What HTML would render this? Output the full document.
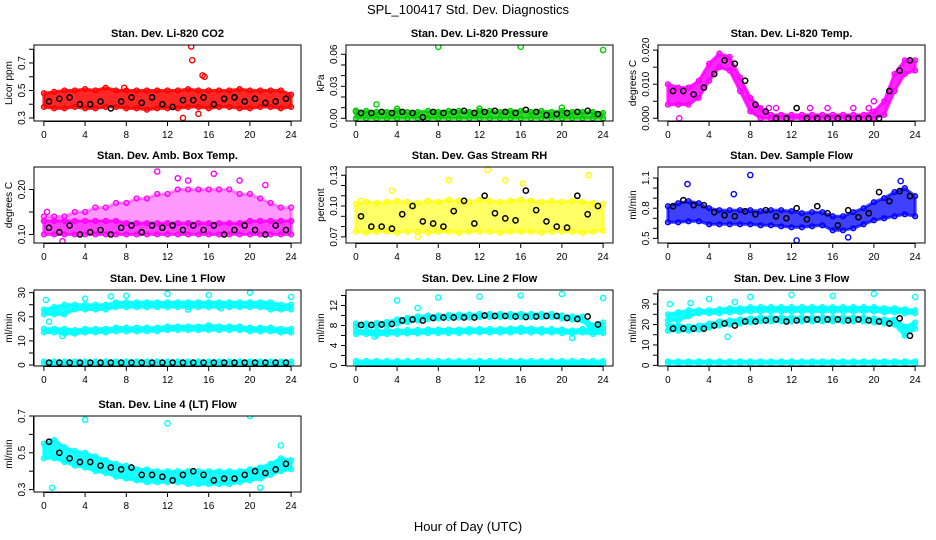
<!DOCTYPE html>
<html><head><meta charset="utf-8"><style>
body{margin:0;background:#fff;}
svg{display:block;font-family:"Liberation Sans",sans-serif;}
</style></head><body>
<svg id="chart" width="936" height="540" viewBox="0 0 936 540">
<text x="468" y="14" text-anchor="middle" font-size="13">SPL_100417  Std. Dev. Diagnostics</text>
<text x="468" y="531" text-anchor="middle" font-size="13">Hour of Day (UTC)</text>
</svg>
<script>
const hours=[0,1,2,3,4,5,6,7,8,9,10,11,12,13,14,15,16,17,18,19,20,21,22,23,24];
const halfHours=[0.5,1.5,2.5,3.5,4.5,5.5,6.5,7.5,8.5,9.5,10.5,11.5,12.5,13.5,14.5,15.5,16.5,17.5,18.5,19.5,20.5,21.5,22.5,23.5];
const xTicks=[0,4,8,12,16,20,24];

const co2Lo=[0.38,0.37,0.37,0.38,0.37,0.37,0.38,0.38,0.37,0.37,0.36,0.37,0.37,0.37,0.38,0.38,0.37,0.38,0.38,0.37,0.37,0.38,0.38,0.37,0.38];
const co2Hi=[0.48,0.49,0.50,0.50,0.51,0.50,0.52,0.50,0.50,0.50,0.50,0.50,0.50,0.50,0.51,0.50,0.50,0.50,0.50,0.51,0.50,0.50,0.50,0.50,0.47];
const co2Black=[0.42,0.44,0.45,0.40,0.40,0.42,0.37,0.42,0.45,0.41,0.45,0.40,0.38,0.43,0.43,0.45,0.40,0.44,0.45,0.42,0.44,0.41,0.42,0.44];
const co2OutX=[14.3,14.4,15.4,15.6,13.5,15.0,7.8];
const co2OutY=[0.82,0.72,0.61,0.60,0.30,0.33,0.52];

const presLo=[0,0,0,0,0,0,0,0,0,0,0,0,0,0,0,0,0,0,0,0,0,0,0,0,0];
const presHi=[0.006,0.007,0.006,0.006,0.007,0.006,0.006,0.007,0.006,0.007,0.007,0.006,0.007,0.007,0.006,0.007,0.007,0.006,0.007,0.006,0.007,0.006,0.006,0.006,0.005];
const presBlack=[0.005,0.005,0.006,0.005,0.006,0.005,0.001,0.006,0.005,0.006,0.007,0.005,0.006,0.007,0.006,0.005,0.008,0.006,0.003,0.004,0.005,0.006,0.007,0.004];
const presOutX=[8,16,24,2,4,12,20,0];
const presOutY=[0.067,0.067,0.064,0.013,0.009,0.009,0.010,0.007];

const tempLo=[0.004,0.004,0.004,0.006,0.011,0.015,0.014,0.008,0.002,0,0,0,0,0,0,0,0,0,0,0,0,0.001,0.008,0.013,0.014];
const tempHi=[0.010,0.009,0.009,0.011,0.016,0.019,0.018,0.012,0.006,0.003,0.001,0.001,0.001,0.001,0.001,0.001,0.001,0.001,0.001,0.001,0.002,0.005,0.013,0.017,0.017];
const tempBlack=[0.008,0.008,0.007,0.009,0.013,0.017,0.016,0.011,0.004,0.002,0,0,0.003,0,0,0,0,0,0,0,0,0.008,0.014,0.017];
const tempOutX=[1.1,9.8,10.5,13.8,15.5,18,19.5,20];
const tempOutY=[0,0.003,0.003,0.003,0.003,0.003,0.003,0.005];

const ambLo=[0.10,0.10,0.10,0.10,0.10,0.10,0.10,0.10,0.10,0.10,0.10,0.10,0.10,0.10,0.10,0.10,0.10,0.10,0.10,0.10,0.10,0.10,0.10,0.10,0.10];
const ambMid=[0.13,0.13,0.13,0.13,0.13,0.13,0.13,0.13,0.125,0.125,0.125,0.125,0.125,0.125,0.125,0.125,0.125,0.125,0.125,0.125,0.13,0.13,0.13,0.13,0.13];
const ambHi=[0.14,0.14,0.14,0.15,0.15,0.16,0.16,0.17,0.17,0.18,0.18,0.19,0.19,0.20,0.20,0.20,0.20,0.20,0.20,0.19,0.19,0.18,0.17,0.16,0.16];
const ambBlack=[0.115,0.105,0.12,0.10,0.105,0.11,0.10,0.115,0.12,0.105,0.12,0.115,0.12,0.11,0.12,0.11,0.12,0.10,0.11,0.12,0.11,0.10,0.12,0.11];
const ambOutX=[11,13,16.5,14,19,1.8,0.3,21.5];
const ambOutY=[0.24,0.225,0.235,0.22,0.22,0.085,0.15,0.21];

const rhLo=[0.075,0.074,0.075,0.075,0.074,0.075,0.075,0.074,0.075,0.075,0.074,0.075,0.075,0.075,0.074,0.075,0.075,0.075,0.074,0.075,0.075,0.075,0.074,0.075,0.076];
const rhHi=[0.102,0.104,0.103,0.104,0.105,0.104,0.103,0.105,0.104,0.106,0.105,0.104,0.106,0.105,0.104,0.105,0.106,0.105,0.104,0.105,0.104,0.105,0.104,0.103,0.102];
const rhBlack=[0.09,0.08,0.08,0.078,0.092,0.10,0.085,0.083,0.08,0.095,0.105,0.083,0.11,0.093,0.088,0.086,0.115,0.096,0.085,0.08,0.079,0.11,0.092,0.10];
const rhOutX=[9,12.8,22.6,0.5,6,14.5,16.2,3.5];
const rhOutY=[0.125,0.135,0.13,0.105,0.07,0.125,0.122,0.115];

const smpLo=[0.66,0.66,0.67,0.67,0.64,0.64,0.64,0.64,0.64,0.63,0.63,0.62,0.61,0.61,0.62,0.63,0.58,0.58,0.60,0.64,0.68,0.70,0.72,0.74,0.72];
const smpHi=[0.82,0.85,0.87,0.85,0.80,0.78,0.78,0.78,0.78,0.77,0.78,0.78,0.77,0.75,0.76,0.76,0.72,0.72,0.76,0.80,0.86,0.90,0.96,1.00,0.92];
const smpBlack=[0.82,0.88,0.83,0.83,0.76,0.73,0.72,0.77,0.74,0.78,0.72,0.70,0.80,0.69,0.82,0.75,0.63,0.78,0.71,0.75,0.96,0.87,0.97,0.92];
const smpOutX=[8,1.9,12.5,6.4,17.5,22.6];
const smpOutY=[1.13,1.04,0.48,0.94,0.51,1.07];

const l1aLo=[21,21,21,23,23,23,23,24,24,24,24,24,24,24,24,24,24,24,24,24,24,24,23,23,23];
const l1aHi=[23,24,25,25,25,25,25,26,26,26,26,26,26,26,26,26,26,26,26,26,26,26,26,25,25];
const l1bLo=[13.5,13.5,13,13,13.5,13.5,13.5,14,14,14,14,14,14.5,14.5,14.5,14.5,14.5,14.5,14.5,14.5,14,14,14,13.5,13.5];
const l1bHi=[15,15,15,14.5,15,15,15,15.5,15.5,15.5,15.5,15.5,16,16,16,16,16.5,16,16,16,15.5,15.5,15.5,15,15];
const l1cLo=[0.5,0.5,0.5,0.5,0.5,0.5,0.5,0.5,0.5,0.5,0.5,0.5,0.5,0.5,0.5,0.5,0.5,0.5,0.5,0.5,0.5,0.5,0.5,0.5,0.5];
const l1cHi=[1.5,1.5,1.5,1.5,1.5,1.5,1.5,1.5,1.5,1.5,1.5,1.5,1.5,1.5,1.5,1.5,1.5,1.5,1.5,1.5,1.5,1.5,1.5,1.5,1.5];
const l1Black=[1,1,1,1,1,1,1,1,1,1,1,1,1,1,1,1,1,1,1,1,1,1,1,1];
const l1OutX=[0.2,4,6.5,8,12,16,20,24,1.8,0.5,14,17.2];
const l1OutY=[27,27.5,28.5,28.7,29.5,29,30,28.2,12,18,23,23.5];

const l2aLo=[7.8,7.8,7.9,8.0,8.4,8.7,9.0,9.3,9.4,9.5,9.6,9.6,9.7,9.7,9.7,9.7,9.7,9.7,9.7,9.7,9.4,9.2,9.0,6.8,7.8];
const l2aHi=[8.4,8.4,8.5,8.7,9.2,9.5,9.8,10.0,10.0,10.1,10.2,10.2,10.3,10.3,10.3,10.3,10.3,10.3,10.3,10.3,10.0,9.8,9.8,8.0,8.6];
const l2bLo=[6.3,6.3,6.1,6.3,6.3,6.4,6.4,6.5,6.5,6.5,6.5,6.6,6.6,6.6,6.6,6.6,6.7,6.6,6.6,6.6,6.5,6.4,6.6,6.3,6.5];
const l2bHi=[7.0,7.0,6.9,7.0,7.0,7.1,7.1,7.2,7.2,7.2,7.2,7.3,7.3,7.3,7.3,7.4,7.5,7.4,7.3,7.3,7.2,7.0,7.3,7.2,7.2];
const l2cLo=[0.3,0.3,0.3,0.3,0.3,0.3,0.3,0.3,0.3,0.3,0.3,0.3,0.3,0.3,0.3,0.3,0.3,0.3,0.3,0.3,0.3,0.3,0.3,0.3,0.3];
const l2cHi=[0.9,0.9,0.9,0.9,0.9,0.9,0.9,0.9,0.9,0.9,0.9,0.9,0.9,0.9,0.9,0.9,0.9,0.9,0.9,0.9,0.9,0.9,0.9,0.9,0.9];
const l2Black=[8.1,8.1,8.2,8.3,9.0,9.2,9.0,9.5,9.6,9.6,9.6,9.6,10.0,9.9,9.9,9.8,9.7,9.8,9.9,9.9,9.5,9.3,9.8,8.2];
const l2OutX=[4,8,12,16,20,24,6,21,1.8];
const l2OutY=[13,13.6,13.8,14,14.3,13.5,11.5,5.5,5.8];

const l3aLo=[22,22,24,25.5,25.5,25.5,26,26,26.5,26.5,26.5,26.5,26.5,26.5,26.5,26.5,26.5,26.5,26.5,26.5,26.5,26,26,25.5,25.5];
const l3aHi=[25,26,27,27,27,27.5,28,28,28.5,28.5,28.5,28.5,28.5,28.5,28.5,28.5,28.5,28.5,28.5,28.5,28.5,28,28,27.5,27];
const l3bLo=[17,17,17,17.5,18.5,19.5,20,20.5,21,21.5,21.5,21.5,21.5,21.5,21.5,21.5,21.5,21.5,21.5,21.5,21,20.5,20,14.5,18];
const l3bHi=[20,19.5,19,19.5,20.5,21.5,22,22.5,23,23.5,23.5,23.5,23.5,23.5,23.5,23.5,23.5,23.5,23.5,23.5,23,22.5,22.5,19,21];
const l3cLo=[1,1,1,1,1,1,1,1,1,1,1,1,1,1,1,1,1,1,1,1,1,1,1,1,1];
const l3cHi=[2,2,2,2,2,2,2,2,2,2,2,2,2,2,2,2,2,2,2,2,2,2,2,2,2];
const l3Black=[18,18,18,18,19.5,20.5,19.5,21.5,21.5,22,22.5,21.5,22,22.5,22.5,22.5,22.5,22,22.5,22,21.5,20.5,23,14.5];
const l3OutX=[0.2,2.2,4,8,12,16,20,24,5.8,6.5];
const l3OutY=[30,30.5,32.5,33.5,34.5,34,35,33.5,14,31];

const l4Lo=[0.47,0.47,0.45,0.43,0.42,0.40,0.39,0.37,0.36,0.35,0.34,0.34,0.34,0.34,0.33,0.33,0.33,0.33,0.33,0.34,0.35,0.36,0.38,0.40,0.41];
const l4Hi=[0.55,0.57,0.53,0.51,0.50,0.48,0.46,0.44,0.43,0.41,0.41,0.40,0.40,0.40,0.40,0.40,0.40,0.40,0.40,0.40,0.41,0.42,0.44,0.47,0.46];
const l4Black=[0.56,0.50,0.47,0.45,0.45,0.43,0.42,0.41,0.42,0.38,0.38,0.37,0.35,0.38,0.40,0.38,0.35,0.36,0.36,0.38,0.40,0.39,0.41,0.44];
const l4OutX=[4,12,20,0.8,21,23];
const l4OutY=[0.68,0.66,0.70,0.31,0.31,0.54];

const svg=document.getElementById('chart');
const NS='http://www.w3.org/2000/svg';
function mk(tag,attrs,parent){const e=document.createElementNS(NS,tag);for(const k in attrs)e.setAttribute(k,attrs[k]);(parent||svg).appendChild(e);return e;}

const colLeft=[34,346,658];
const rowTop=[45,167,290,416];
const boxW=267, boxH=76;

const panels=[
 {id:'co2',title:'Stan. Dev. Li-820 CO2',ylab:'Licor ppm',col:0,row:0,y0:0.278,y1:0.831,ticks:[0.3,0.4,0.5,0.6,0.7,0.8],labels:[0.3,0.5,0.7],dec:1,color:'#ff0000',bands:[[co2Lo,co2Hi,0.85]],black:co2Black,ox:co2OutX,oy:co2OutY},
 {id:'pressure',title:'Stan. Dev. Li-820 Pressure',ylab:'kPa',col:1,row:0,y0:-0.0025,y1:0.0687,ticks:[0,0.01,0.02,0.03,0.04,0.05,0.06],labels:[0,0.03,0.06],dec:2,color:'#00cd00',bands:[[presLo,presHi,0.8]],black:presBlack,ox:presOutX,oy:presOutY},
 {id:'temp',title:'Stan. Dev. Li-820 Temp.',ylab:'degrees C',col:2,row:0,y0:-0.0008,y1:0.0215,ticks:[0,0.005,0.01,0.015,0.02],labels:[0,0.01,0.02],dec:3,color:'#ff00ff',bands:[[tempLo,tempHi,0.85]],black:tempBlack,ox:tempOutX,oy:tempOutY},
 {id:'amb',title:'Stan. Dev. Amb. Box Temp.',ylab:'degrees C',col:0,row:1,y0:0.081,y1:0.25,ticks:[0.1,0.15,0.2],labels:[0.1,0.2],dec:2,color:'#ff00ff',bands:[[ambLo,ambMid,0.75],[ambMid,ambHi,0.4]],black:ambBlack,ox:ambOutX,oy:ambOutY},
 {id:'rh',title:'Stan. Dev. Gas Stream RH',ylab:'percent',col:1,row:1,y0:0.064,y1:0.138,ticks:[0.07,0.08,0.09,0.1,0.11,0.12,0.13],labels:[0.07,0.1,0.13],dec:2,color:'#ffff00',bands:[[rhLo,rhHi,0.6]],black:rhBlack,ox:rhOutX,oy:rhOutY},
 {id:'sample',title:'Stan. Dev. Sample Flow',ylab:'ml/min',col:2,row:1,y0:0.454,y1:1.21,ticks:[0.5,0.6,0.7,0.8,0.9,1.0,1.1],labels:[0.5,0.8,1.1],dec:1,color:'#0000ff',bands:[[smpLo,smpHi,0.75]],black:smpBlack,ox:smpOutX,oy:smpOutY},
 {id:'line1',title:'Stan. Dev. Line 1 Flow',ylab:'ml/min',col:0,row:2,y0:-0.4,y1:31.1,ticks:[0,5,10,15,20,25,30],labels:[0,10,20,30],dec:0,color:'#00ffff',bands:[[l1aLo,l1aHi,0.9],[l1bLo,l1bHi,0.9],[l1cLo,l1cHi,0.9]],black:l1Black,ox:l1OutX,oy:l1OutY},
 {id:'line2',title:'Stan. Dev. Line 2 Flow',ylab:'ml/min',col:1,row:2,y0:-0.1,y1:15.1,ticks:[0,2,4,6,8,10,12,14],labels:[0,4,8,12],dec:0,color:'#00ffff',bands:[[l2aLo,l2aHi,0.9],[l2bLo,l2bHi,0.9],[l2cLo,l2cHi,0.9]],black:l2Black,ox:l2OutX,oy:l2OutY},
 {id:'line3',title:'Stan. Dev. Line 3 Flow',ylab:'ml/min',col:2,row:2,y0:-0.3,y1:36.9,ticks:[0,5,10,15,20,25,30,35],labels:[0,10,20,30],dec:0,color:'#00ffff',bands:[[l3aLo,l3aHi,0.9],[l3bLo,l3bHi,0.9],[l3cLo,l3cHi,0.9]],black:l3Black,ox:l3OutX,oy:l3OutY},
 {id:'line4',title:'Stan. Dev. Line 4 (LT) Flow',ylab:'ml/min',col:0,row:3,y0:0.287,y1:0.70,ticks:[0.3,0.4,0.5,0.6,0.7],labels:[0.3,0.5,0.7],dec:1,color:'#00ffff',bands:[[l4Lo,l4Hi,0.9]],black:l4Black,ox:l4OutX,oy:l4OutY}
];

panels.forEach(p=>{
 const L=colLeft[p.col], T=rowTop[p.row];
 const g=mk('g',{});
 
 
 const xs=t=>L+(t+0.96)/25.92*boxW;
 const ys=v=>T+boxH-(v-p.y0)/(p.y1-p.y0)*boxH;
 const cp=mk('clipPath',{id:'clip-'+p.id},g);
 mk('rect',{x:L,y:T,width:boxW,height:boxH},cp);
 const plot=mk('g',{'clip-path':'url(#clip-'+p.id+')'},g);
 
 
 p.bands.forEach((b,bi)=>{
  const lo=b[0],hi=b[1];
  let d='';
  hours.forEach((h,i)=>{d+=(i?'L':'M')+xs(h).toFixed(1)+','+ys(hi[i]).toFixed(1);});
  for(let i=hours.length-1;i>=0;i--)d+='L'+xs(hours[i]).toFixed(1)+','+ys(lo[i]).toFixed(1);
  const band=mk('path',{d:d+'Z',fill:p.color,'fill-opacity':b[2],stroke:p.color,'stroke-opacity':b[2],'stroke-width':3,'stroke-linejoin':'round'},plot);
  
  
  hours.forEach((h,i)=>{
   [lo[i],hi[i]].forEach(v=>{
    const c=mk('circle',{cx:xs(h),cy:ys(v),r:2.4,fill:'none',stroke:p.color,'stroke-width':1.4},plot);
    
    
   });
  });
 });
 p.ox.forEach((t,i)=>{
  const c=mk('circle',{cx:xs(t),cy:ys(p.oy[i]),r:2.6,fill:'none',stroke:p.color,'stroke-width':1.4},plot);
  
  
 });
 halfHours.forEach((t,i)=>{
  const c=mk('circle',{cx:xs(t),cy:ys(p.black[i]),r:2.6,fill:'none',stroke:'#000','stroke-width':1.5},plot);
  
  
 });
 mk('rect',{x:L,y:T,width:boxW,height:boxH,fill:'none',stroke:'#000','stroke-width':1},g);
 const bx=T+boxH;
 mk('line',{x1:xs(0),x2:xs(24),y1:bx+0.5,y2:bx+0.5,stroke:'#000'},g);
 xTicks.forEach(t=>{
  mk('line',{x1:xs(t),x2:xs(t),y1:bx,y2:bx+5,stroke:'#000'},g);
  const tx=mk('text',{x:xs(t),y:bx+17,'text-anchor':'middle','font-size':10},g);
  tx.textContent=t;
  
  
 });
 mk('line',{x1:L-0.5,x2:L-0.5,y1:ys(p.ticks[0]),y2:ys(p.ticks[p.ticks.length-1]),stroke:'#000'},g);
 p.ticks.forEach(v=>mk('line',{x1:L-5,x2:L,y1:ys(v),y2:ys(v),stroke:'#000'},g));
 p.labels.forEach(v=>{
  const yy=ys(v);
  const tx=mk('text',{x:L-9,y:yy,'text-anchor':'middle','font-size':10,transform:'rotate(-90 '+(L-9)+' '+yy+')'},g);
  tx.textContent=v.toFixed(p.dec);
  
  
 });
 const yl=mk('text',{x:L-22,y:T+boxH/2,'text-anchor':'middle','font-size':10,transform:'rotate(-90 '+(L-22)+' '+(T+boxH/2)+')'},g);
 yl.textContent=p.ylab;
 
 
 const tt=mk('text',{x:L+boxW/2,y:T-8,'text-anchor':'middle','font-size':11,'font-weight':'bold'},g);
 tt.textContent=p.title;
 
 
});
</script>
</body></html>
